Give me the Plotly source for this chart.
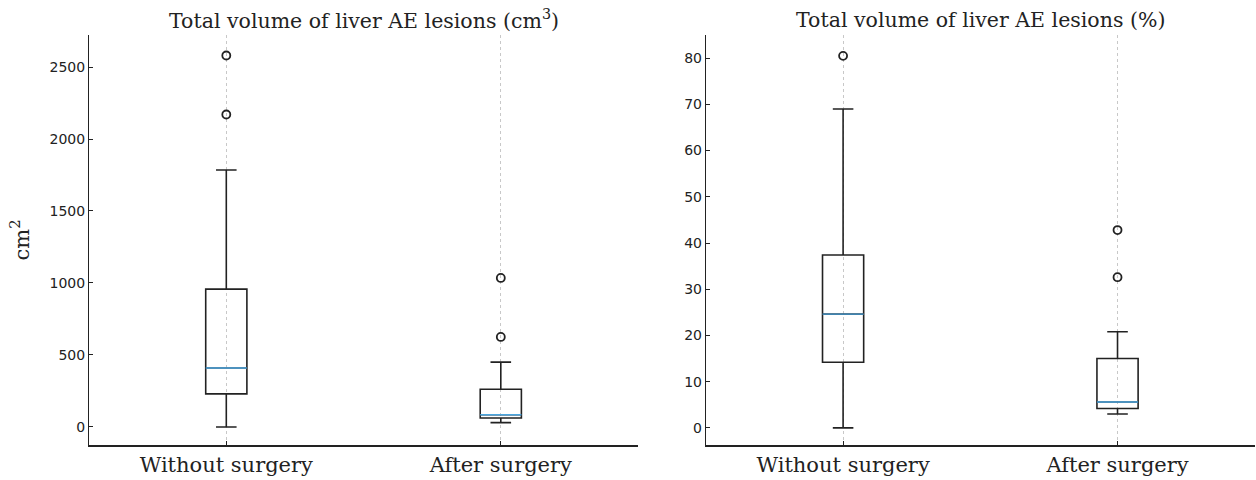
import plotly.graph_objects as go

categories = ["Without surgery", "After surgery"]

# Panel 1: total volume (cm3)
vol_lower = [0, 30]
vol_q1 = [230, 62]
vol_median = [410, 85]
vol_q3 = [957, 262]
vol_upper = [1785, 450]
vol_outliers = [[2580, 2170], [1035, 625]]

# Panel 2: total volume (%)
pct_lower = [0, 3.0]
pct_q1 = [14.2, 4.2]
pct_median = [24.6, 5.6]
pct_q3 = [37.4, 15.0]
pct_upper = [69.0, 20.8]
pct_outliers = [[80.5], [42.8, 32.6]]

BOX_W = 0.15
MEDIAN_COLOR = "#4aa6e0"
SERIF = "DejaVu Serif, serif"
SANS = "DejaVu Sans, sans-serif"
INK = "#222222"

fig = go.Figure()

def add_panel(lower, q1, med, q3, upper, outl, xa, ya):
    pos = list(range(len(categories)))
    fig.add_trace(go.Box(
        x=pos, q1=q1, median=med, q3=q3, lowerfence=lower, upperfence=upper,
        width=BOX_W, whiskerwidth=0.5,
        line=dict(color=INK, width=1.6),
        fillcolor="rgba(0,0,0,0)",
        boxpoints=False, showlegend=False, hoverinfo="skip",
        xaxis=xa, yaxis=ya,
    ))
    for i in pos:
        fig.add_trace(go.Scatter(
            x=[i - BOX_W / 2, i + BOX_W / 2], y=[med[i], med[i]],
            mode="lines", line=dict(color=MEDIAN_COLOR, width=1.4),
            showlegend=False, hoverinfo="skip", xaxis=xa, yaxis=ya,
        ))
        fig.add_trace(go.Scatter(
            x=[i] * len(outl[i]), y=outl[i], mode="markers",
            marker=dict(symbol="circle-open", size=8, color=INK,
                        line=dict(width=1.8, color=INK)),
            showlegend=False, hoverinfo="skip", xaxis=xa, yaxis=ya,
        ))

add_panel(vol_lower, vol_q1, vol_median, vol_q3, vol_upper, vol_outliers, "x", "y")
add_panel(pct_lower, pct_q1, pct_median, pct_q3, pct_upper, pct_outliers, "x2", "y2")

xcommon = dict(
    range=[-0.5, 1.5], tickmode="array", tickvals=[0, 1], ticktext=categories,
    showline=True, linecolor=INK, linewidth=1.6,
    showgrid=True, gridcolor="#c8c8c8", griddash="dot", gridwidth=1,
    zeroline=False, ticks="inside", ticklen=4, tickcolor=INK,
    tickfont=dict(family=SERIF, size=21, color=INK),
)
ycommon = dict(
    showline=True, linecolor=INK, linewidth=1.2,
    showgrid=False, zeroline=False, ticks="inside", ticklen=4, tickcolor=INK,
    tickfont=dict(family=SANS, size=14, color=INK),
)

fig.update_layout(
    width=1256, height=480,
    margin=dict(l=0, r=0, t=0, b=0),
    paper_bgcolor="white", plot_bgcolor="white",
    xaxis=dict(domain=[0.0709, 0.508], anchor="y", **xcommon),
    xaxis2=dict(domain=[0.562, 0.999], anchor="y2", **xcommon),
    yaxis=dict(domain=[0.073, 0.927], anchor="x", range=[-125, 2722],
               tickvals=[0, 500, 1000, 1500, 2000, 2500],
               title=dict(text="cm<sup>2</sup>", font=dict(family=SERIF, size=21, color=INK), standoff=14),
               **ycommon),
    yaxis2=dict(domain=[0.073, 0.927], anchor="x2", range=[-3.7, 85],
                tickvals=[0, 10, 20, 30, 40, 50, 60, 70, 80], **ycommon),
    annotations=[
        dict(text="Total volume of liver AE lesions (cm<sup>3</sup>)", x=0.2895, y=1 - 20 / 480,
             xref="paper", yref="paper", showarrow=False, xanchor="center", yanchor="middle",
             font=dict(family=SERIF, size=20.5, color=INK)),
        dict(text="Total volume of liver AE lesions (%)", x=0.7805, y=1 - 20 / 480,
             xref="paper", yref="paper", showarrow=False, xanchor="center", yanchor="middle",
             font=dict(family=SERIF, size=20.5, color=INK)),
    ],
)

fig.write_html("out.html", config={"displayModeBar": False},
               post_script="document.body.style.margin='0';document.body.style.overflow='hidden';")
